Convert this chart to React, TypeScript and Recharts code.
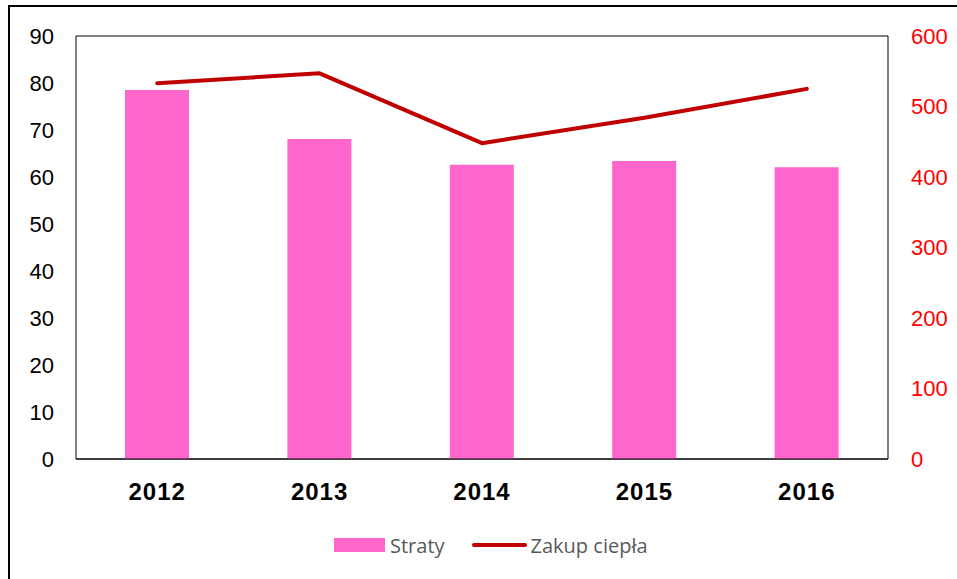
import { ComposedChart, Bar, Line, XAxis, YAxis, CartesianGrid, Legend } from 'recharts'

const years = ['2012', '2013', '2014', '2015', '2016']
const straty = [78.5, 68.1, 62.6, 63.4, 62.1]
const zakupCiepla = [533, 547, 448, 484, 525]
const leftTicks = [0, 10, 20, 30, 40, 50, 60, 70, 80, 90]
const rightTicks = [0, 100, 200, 300, 400, 500, 600]

const data = years.map((year, i) => ({ year, straty: straty[i], zakup: zakupCiepla[i] }))

const FONT = '"Liberation Sans", Arial, sans-serif'

function LegendContent() {
  return (
    <div style={{ display: 'flex', alignItems: 'center', height: 28, paddingLeft: 334, fontFamily: '"Open Sans", "Noto Sans", sans-serif', fontSize: 20, color: '#595959' }}>
      <span style={{ display: 'inline-block', width: 51, height: 14, background: '#FF66CC', marginRight: 5 }} />
      <span>Straty</span>
      <span style={{ display: 'inline-block', width: 55, height: 4, borderRadius: 2, background: '#C00000', marginLeft: 27, marginRight: 4 }} />
      <span>Zakup ciepła</span>
    </div>
  )
}

export default function App() {
  return (
    <div style={{ position: 'absolute', left: 0, top: 0, width: 957, height: 579, overflow: 'hidden', background: '#fff' }}>
      <div style={{ position: 'absolute', left: 8, top: 5, width: 980, height: 600, border: '2px solid #000' }} />
      <div style={{ position: 'absolute', left: 0, top: 0 }}>
        <ComposedChart width={957} height={579} data={data} margin={{ top: 36, right: 0, left: 0, bottom: 20 }}>
          <CartesianGrid vertical={false} stroke="#000" strokeWidth={1} />
          <XAxis
            dataKey="year"
            height={72}
            tickLine={false}
            tickSize={0}
            tickMargin={24}
            axisLine={{ stroke: '#000', strokeWidth: 1 }}
            tick={{ fill: '#000', fontSize: 24, fontWeight: 'bold', fontFamily: FONT, letterSpacing: 1 }}
          />
          <YAxis
            yAxisId="left"
            domain={[0, 90]}
            ticks={leftTicks}
            width={76}
            tickLine={false}
            tickSize={0}
            tickMargin={22}
            axisLine={{ stroke: '#000', strokeWidth: 1 }}
            tick={{ fill: '#000', fontSize: 22, fontFamily: FONT }}
          />
          <YAxis
            yAxisId="right"
            orientation="right"
            domain={[0, 600]}
            ticks={rightTicks}
            width={69}
            tickLine={false}
            tickSize={0}
            tickMargin={23}
            axisLine={{ stroke: '#000', strokeWidth: 1 }}
            tick={{ fill: '#FF0000', fontSize: 22, fontFamily: FONT, textAnchor: 'start' }}
          />
          <Bar yAxisId="left" dataKey="straty" name="Straty" fill="#FF66CC" barSize={64} isAnimationActive={false} />
          <Line
            yAxisId="right"
            type="linear"
            dataKey="zakup"
            name="Zakup ciepła"
            stroke="#C00000"
            strokeWidth={4}
            strokeLinecap="round"
            strokeLinejoin="round"
            dot={false}
            activeDot={false}
            isAnimationActive={false}
          />
          <Legend verticalAlign="bottom" height={28} content={<LegendContent />} />
        </ComposedChart>
      </div>
    </div>
  )
}
